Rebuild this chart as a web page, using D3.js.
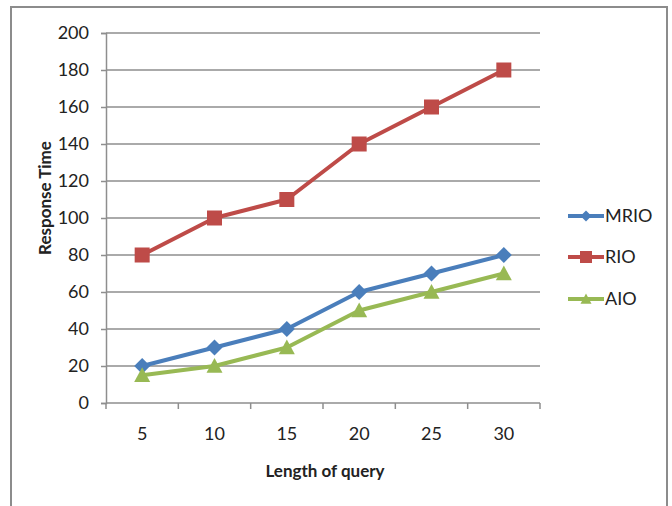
<!DOCTYPE html>
<html>
<head>
<meta charset="utf-8">
<script src="https://cdn.jsdelivr.net/npm/d3@7/dist/d3.min.js"></script>
<style>
  html, body { margin: 0; padding: 0; background: #fff; }
  svg { display: block; }
  text { font-family: Lato, "Open Sans", "Liberation Sans", sans-serif; fill: #222; }
</style>
</head>
<body>
<script>
// Query length categories (x axis)
const categories = ["5", "10", "15", "20", "25", "30"];
// Response time per method
const mrio = [20, 30, 40, 60, 70, 80];
const rio  = [80, 100, 110, 140, 160, 180];
const aio  = [15, 20, 30, 50, 60, 70];
// Y axis ticks
const yTicks = [0, 20, 40, 60, 80, 100, 120, 140, 160, 180, 200];

const series = [
  { name: "MRIO", values: mrio, color: "#4a7ebb", shape: "diamond" },
  { name: "RIO",  values: rio,  color: "#be4b48", shape: "square" },
  { name: "AIO",  values: aio,  color: "#98b954", shape: "triangle" }
];

const W = 672, H = 506;
const FONT = 'Lato, "Open Sans", "Liberation Sans", sans-serif';
const svg = d3.select("body").append("svg").attr("width", W).attr("height", H);

// outer frame (bottom edge runs past the canvas)
svg.append("rect")
  .attr("x", 11).attr("y", 7).attr("width", 656).attr("height", 520)
  .attr("fill", "none").attr("stroke", "#8c8c8c").attr("stroke-width", 2);

const plot = { left: 106, right: 540, top: 33, bottom: 403 };

const x = d3.scaleBand().domain(categories).range([plot.left, plot.right]).padding(0);
const y = d3.scaleLinear().domain([0, 200]).range([plot.bottom, plot.top]);

// horizontal gridlines
svg.append("g").selectAll("line")
  .data(yTicks.filter(t => t > 0))
  .join("line")
  .attr("x1", plot.left).attr("x2", plot.right)
  .attr("y1", d => y(d)).attr("y2", d => y(d))
  .attr("stroke", "#8e8e8e").attr("stroke-width", 1.5);

// y axis
const yAxis = svg.append("g").attr("transform", `translate(${plot.left},0)`)
  .call(d3.axisLeft(y).tickValues(yTicks).tickSize(5).tickPadding(12));
yAxis.select(".domain").attr("stroke", "#8e8e8e").attr("stroke-width", 1.5);
yAxis.selectAll(".tick line").attr("stroke", "#8e8e8e").attr("stroke-width", 1.5);
yAxis.selectAll(".tick text")
  .style("font-family", FONT)
  .style("font-size", "18px").attr("fill", "#222");

// x axis with ticks on category boundaries
const xAxisG = svg.append("g").attr("transform", `translate(0,${plot.bottom})`);
xAxisG.append("line")
  .attr("x1", plot.left).attr("x2", plot.right)
  .attr("y1", 0).attr("y2", 0)
  .attr("stroke", "#8e8e8e").attr("stroke-width", 1.5);
const bounds = categories.map(c => x(c)).concat([plot.right]);
xAxisG.selectAll("line.tk").data(bounds).join("line").attr("class", "tk")
  .attr("x1", d => d).attr("x2", d => d).attr("y1", 0).attr("y2", 6)
  .attr("stroke", "#8e8e8e").attr("stroke-width", 1.5);
xAxisG.selectAll("text").data(categories).join("text")
  .attr("x", d => x(d) + x.bandwidth() / 2)
  .attr("y", 37)
  .attr("text-anchor", "middle")
  .style("font-size", "18px")
  .text(d => d);

// axis titles
svg.append("text")
  .attr("x", 325).attr("y", 477)
  .attr("text-anchor", "middle")
  .style("font-size", "17px").style("font-weight", "bold")
  .text("Length of query");

svg.append("text")
  .attr("transform", "translate(51,198) rotate(-90)")
  .attr("text-anchor", "middle")
  .style("font-size", "17px").style("font-weight", "bold")
  .text("Response Time");

// marker shapes
function marker(sel, shape, size, color) {
  const s = size / 2;
  if (shape === "diamond") {
    sel.append("path").attr("d", `M0,${-s}L${s},0L0,${s}L${-s},0Z`).attr("fill", color);
  } else if (shape === "square") {
    sel.append("rect").attr("x", -s).attr("y", -s).attr("width", size).attr("height", size).attr("fill", color);
  } else {
    sel.append("path").attr("d", `M0,${-s}L${s},${s * 0.85}L${-s},${s * 0.85}Z`).attr("fill", color);
  }
}

const cx = c => x(c) + x.bandwidth() / 2;
const line = d3.line().x((d, i) => cx(categories[i])).y(d => y(d));

series.forEach(s => {
  svg.append("path")
    .datum(s.values)
    .attr("d", line)
    .attr("fill", "none")
    .attr("stroke", s.color)
    .attr("stroke-width", 4)
    .attr("stroke-linejoin", "round");
  s.values.forEach((v, i) => {
    const g = svg.append("g").attr("transform", `translate(${cx(categories[i])},${y(v)})`);
    marker(g, s.shape, s.shape === "square" ? 15 : 16, s.color);
  });
});

// legend
const legendY = [216, 257, 299];
series.forEach((s, i) => {
  const g = svg.append("g").attr("transform", `translate(568,${legendY[i]})`);
  g.append("line").attr("x1", 0).attr("x2", 36).attr("y1", 0).attr("y2", 0)
    .attr("stroke", s.color).attr("stroke-width", 4);
  const m = g.append("g").attr("transform", "translate(18,0)");
  marker(m, s.shape, s.shape === "square" ? 12 : 11, s.color);
  g.append("text").attr("x", 37).attr("y", 0).attr("dy", "0.36em")
    .style("font-size", "18px").text(s.name);
});
</script>
</body>
</html>
